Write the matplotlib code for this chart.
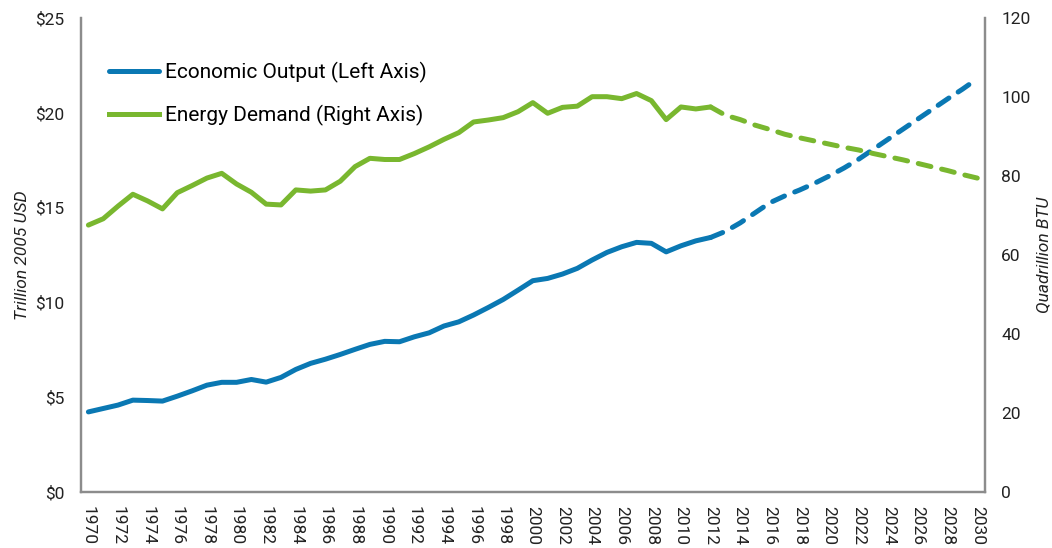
import numpy as np
from matplotlib import pyplot as plt

plt.rcParams['font.family'] = ['Roboto', 'DejaVu Sans']

#--------------------data
years_hist = list(range(1970, 2013))
years_proj = list(range(2012, 2031))

econ_hist = [4.23, 4.41, 4.59, 4.85, 4.83, 4.80, 5.06, 5.34, 5.64, 5.79,
             5.79, 5.94, 5.80, 6.05, 6.47, 6.79, 7.01, 7.26, 7.53, 7.79,
             7.95, 7.93, 8.19, 8.40, 8.76, 8.98, 9.34, 9.74, 10.16, 10.65,
             11.15, 11.27, 11.50, 11.80, 12.24, 12.64, 12.94, 13.17, 13.12, 12.67,
             12.99, 13.25, 13.43]
econ_proj = [13.43, 13.75, 14.20, 14.73, 15.26, 15.62, 15.93, 16.28, 16.67, 17.09,
             17.56, 18.09, 18.62, 19.15, 19.68, 20.21, 20.74, 21.25, 21.80]

energy_hist = [67.6, 69.2, 72.4, 75.4, 73.7, 71.7, 75.8, 77.6, 79.5, 80.7,
               78.0, 75.9, 72.9, 72.7, 76.5, 76.2, 76.5, 78.7, 82.4, 84.5,
               84.2, 84.2, 85.7, 87.4, 89.3, 91.0, 93.7, 94.2, 94.8, 96.3,
               98.6, 95.9, 97.4, 97.7, 100.1, 100.1, 99.6, 100.9, 99.1, 94.3,
               97.5, 97.0, 97.5]
energy_proj = [97.5, 95.4, 94.3, 92.9, 91.8, 90.6, 89.7, 88.9, 88.1, 87.3,
               86.6, 85.7, 84.9, 84.1, 83.2, 82.3, 81.4, 80.4, 79.5]

left_ticks = [0, 5, 10, 15, 20, 25]
left_labels = ["$0", "$5", "$10", "$15", "$20", "$25"]
right_ticks = [0, 20, 40, 60, 80, 100, 120]
year_ticks = list(range(1970, 2031, 2))

blue = '#0A78B3'
green = '#79B72F'
grey = '#8C8C8C'
lw = 3.6

fig = plt.figure(figsize=(10.52, 5.48), dpi=100)
ax = fig.add_axes([0.077, 0.102, 0.859, 0.865])
ax2 = ax.twinx()

#economic output (left)
ax.plot(years_hist, econ_hist, color=blue, lw=lw, solid_capstyle='round',
        solid_joinstyle='round', label="Economic Output (Left Axis)")
ax.plot(years_proj, econ_proj, color=blue, lw=lw, dashes=(2.6, 2.2),
        dash_capstyle='round', dash_joinstyle='round')
#energy demand (right)
ax2.plot(years_hist, energy_hist, color=green, lw=lw, solid_capstyle='round',
         solid_joinstyle='round')
ax2.plot(years_proj, energy_proj, color=green, lw=lw, dashes=(2.6, 2.2),
         dash_capstyle='round', dash_joinstyle='round')
ax.plot([], [], color=green, lw=lw, label="Energy Demand (Right Axis)")

ax.set_xlim(1969.5, 2030.5)
ax.set_ylim(0, 25)
ax2.set_ylim(0, 120)

ax.set_yticks(left_ticks)
ax.set_yticklabels(left_labels)
ax2.set_yticks(right_ticks)
ax.set_xticks(year_ticks)
ax.set_xticklabels([str(y) for y in year_ticks], rotation=-90)

for a in (ax, ax2):
    a.tick_params(length=0, labelsize=12.5, colors='#222222', pad=6)
    a.spines['top'].set_visible(False)
    for s in ('left', 'right', 'bottom'):
        a.spines[s].set_color(grey)
        a.spines[s].set_linewidth(1.6)
ax.tick_params(axis='y', pad=12)
ax2.tick_params(axis='y', pad=12)
ax.tick_params(axis='x', pad=10)

ax.set_ylabel("Trillion 2005 USD", fontstyle='italic', fontsize=12.5, color='#222222', labelpad=4)
ax2.set_ylabel("Quadrillion BTU", fontstyle='italic', fontsize=12.5, color='#222222',
               rotation=90, labelpad=4)

leg = ax.legend(loc='upper left', bbox_to_anchor=(0.01, 0.948), frameon=False,
                fontsize=15, handlelength=2.4, handletextpad=0.3, labelspacing=1.05)

fig.savefig("out.png", dpi=100)
